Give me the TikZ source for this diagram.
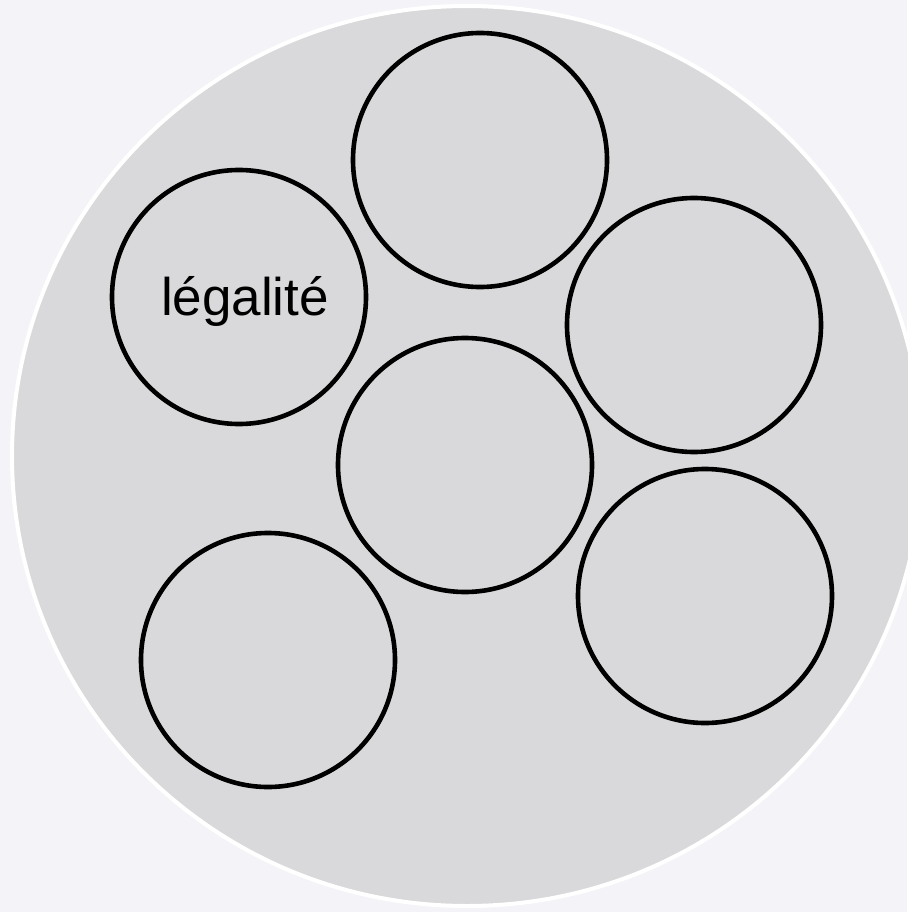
\documentclass[tikz,border=0pt]{standalone}
\usepackage{fontspec}
\setmainfont{Liberation Sans}
\usepackage{xcolor}
\definecolor{pale}{RGB}{244,244,248}
\definecolor{disc}{RGB}{217,217,219}
\definecolor{ink}{RGB}{0,0,0}
\tikzset{
  blob/.style={circle,draw=ink,line width=4.6pt,fill=disc,minimum size=254pt,inner sep=0pt}
}

\begin{document}
\begin{tikzpicture}[x=1pt,y=-1pt]
  \fill[pale] (0,0) rectangle (907,912);
  \useasboundingbox (0,0) rectangle (907,912);
  % outer disc
  \draw[white,line width=4pt,fill=disc] (467,456) ellipse [x radius=455, y radius=450];
  % inner circles
  \node[blob,label={[font=\fontsize{53}{60}\selectfont,xshift=6pt,yshift=-4pt]center:légalité}] (legal) at (239,297) {};
  \foreach \x/\y/\name in {480/160/top,694/325/upright,465/465/mid,705/596/lowright,268/660/lowleft}{
    \node[blob] (\name) at (\x,\y) {};
  }
\end{tikzpicture}
\end{document}
